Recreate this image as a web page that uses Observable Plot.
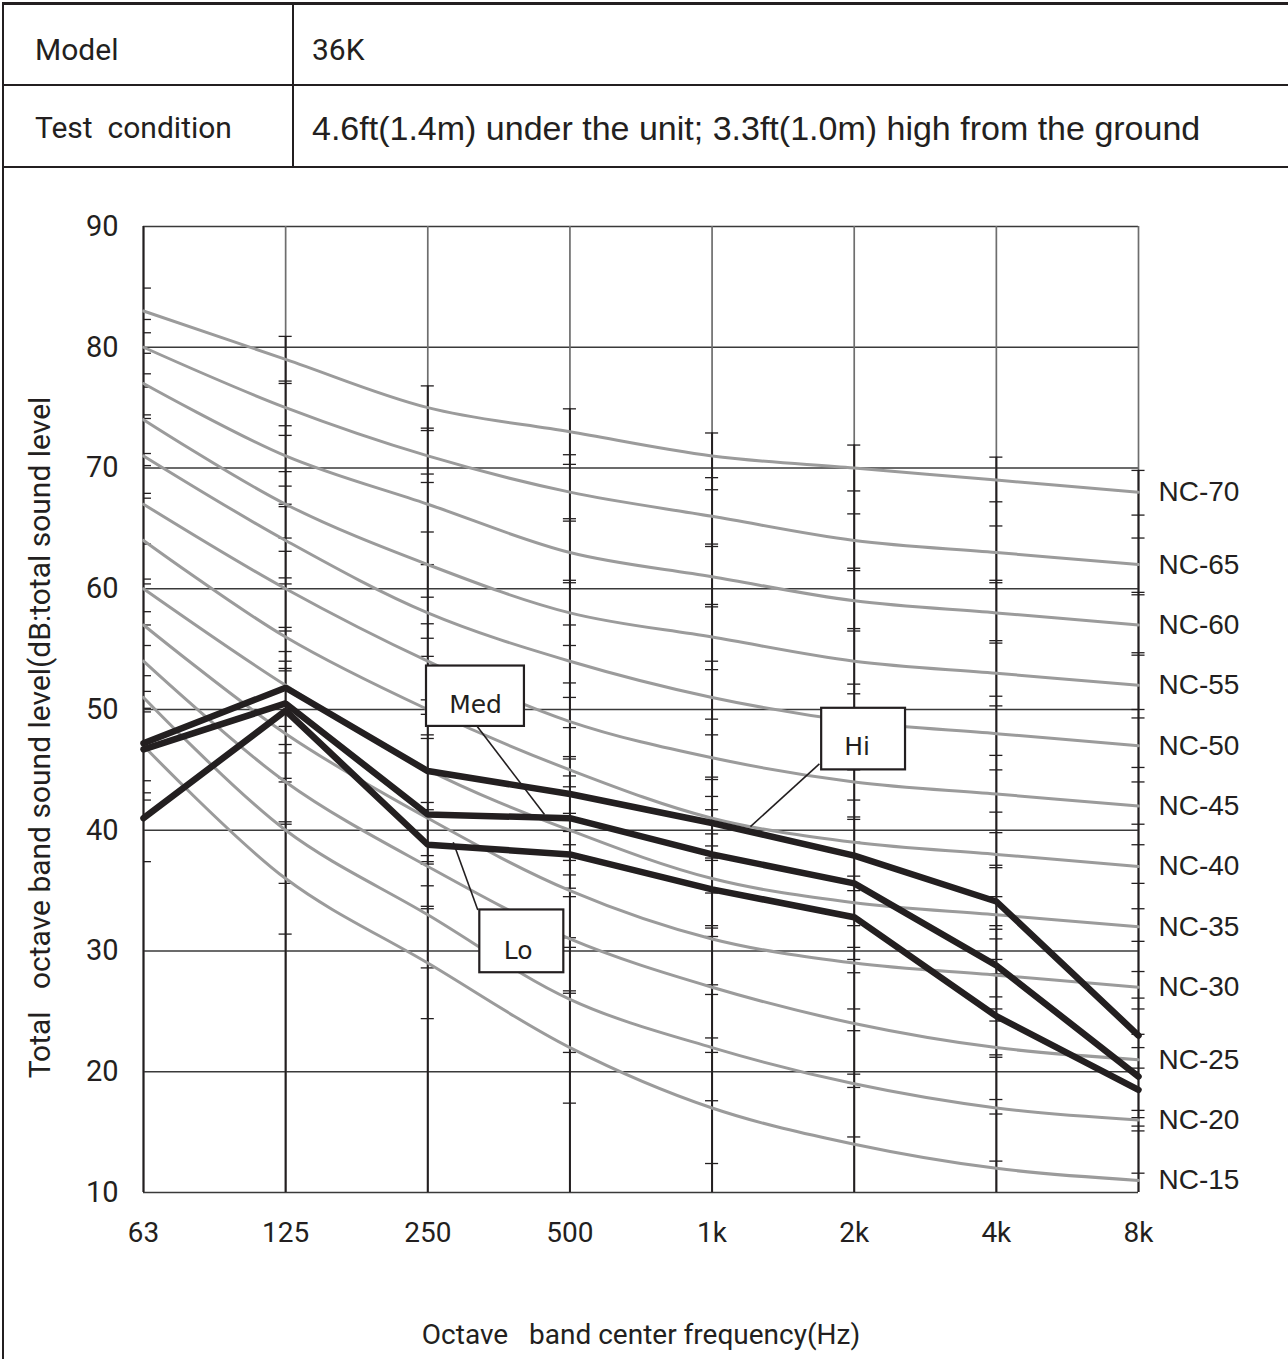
<!DOCTYPE html>
<html>
<head>
<meta charset="utf-8">
<script src="https://cdn.jsdelivr.net/npm/d3@7"></script>
<script src="https://cdn.jsdelivr.net/npm/@observablehq/plot@0.6"></script>
<style>
  html, body { margin: 0; padding: 0; background: #fff; }
  #page { position: relative; width: 1288px; height: 1359px; overflow: hidden; background: #fff; color: #231f20; }
  .line { position: absolute; background: #231f20; z-index: 2; }
  .cell { position: absolute; line-height: 1; white-space: pre; transform: translateY(-50%); z-index: 2; }
  .din { font-family: Roboto, sans-serif; font-size: 30px; }
  .arial { font-family: "Liberation Sans", Arial, sans-serif; font-size: 34px; }
  #chart { position: absolute; left: 0; top: 167px; z-index: 1; }
</style>
</head>
<body>
<div id="page">
  <div id="chart"></div>
  <!-- header table -->
  <div class="line" style="left:2px;top:2px;width:1300px;height:3px"></div>
  <div class="line" style="left:2px;top:2px;width:2px;height:1400px"></div>
  <div class="line" style="left:2px;top:84px;width:1300px;height:2px"></div>
  <div class="line" style="left:2px;top:166px;width:1300px;height:2px"></div>
  <div class="line" style="left:292px;top:2px;width:2px;height:165px"></div>
  <div class="cell din" style="left:35px;top:50px">Model</div>
  <div class="cell din" style="left:312px;top:50px">36K</div>
  <div class="cell din" style="left:35px;top:128px">Test  condition</div>
  <div class="cell arial" style="left:312px;top:128px">4.6ft(1.4m) under the unit; 3.3ft(1.0m) high from the ground</div>
</div>
<script>
// Octave bands (x positions are the band index)
const bands = ["63", "125", "250", "500", "1k", "2k", "4k", "8k"];
const yTicks = [10, 20, 30, 40, 50, 60, 70, 80, 90];

// Noise criterion reference curves, dB per octave band
const ncNames = ["NC-70", "NC-65", "NC-60", "NC-55", "NC-50", "NC-45", "NC-40", "NC-35", "NC-30", "NC-25", "NC-20", "NC-15"];
const nc70 = [83, 79, 75, 73, 71, 70, 69, 68];
const nc65 = [80, 75, 71, 68, 66, 64, 63, 62];
const nc60 = [77, 71, 67, 63, 61, 59, 58, 57];
const nc55 = [74, 67, 62, 58, 56, 54, 53, 52];
const nc50 = [71, 64, 58, 54, 51, 49, 48, 47];
const nc45 = [67, 60, 54, 49, 46, 44, 43, 42];
const nc40 = [64, 56, 50, 45, 41, 39, 38, 37];
const nc35 = [60, 52, 45, 40, 36, 34, 33, 32];
const nc30 = [57, 48, 41, 35, 31, 29, 28, 27];
const nc25 = [54, 44, 37, 31, 27, 24, 22, 21];
const nc20 = [51, 40, 33, 26, 22, 19, 17, 16];
const nc15 = [47, 36, 29, 22, 17, 14, 12, 11];
const ncLevels = [nc70, nc65, nc60, nc55, nc50, nc45, nc40, nc35, nc30, nc25, nc20, nc15];

// Measured sound levels of the 36K unit per fan speed
const modes = ["Hi", "Med", "Lo"];
const hiLevels  = [47.2, 51.8, 44.9, 43.0, 40.6, 37.9, 34.1, 23.0];
const medLevels = [46.7, 50.5, 41.3, 41.0, 38.0, 35.6, 28.8, 19.6];
const loLevels  = [41.0, 49.9, 38.8, 38.0, 35.1, 32.8, 24.6, 18.5];
const modeLevels = [hiLevels, medLevels, loLevels];

// Callout boxes: band-index span, dB span, text anchor, leader end points
const calloutX1 = [4.771, 1.991, 2.366];
const calloutX2 = [5.361, 2.680, 2.957];
const calloutY1 = [45.0, 48.6, 28.2];
const calloutY2 = [50.1, 53.6, 33.4];
const calloutTx = [5.021, 2.336, 2.636];
const calloutTy = [46.9, 50.4, 30.0];
const leaderFrom = [[4.755, 45.5], [2.348, 48.6], [2.352, 33.4]];
const leaderTo   = [[4.270, 40.3], [2.821, 41.3], [2.179, 39.0]];

// Scale marks along each band line (dB)
const ticks63   = [84.9, 82.3, 81.2, 79.5, 77.8, 76.7, 74.4, 74.1, 71.2, 70.2, 67.9, 67.5, 63.7, 60.8, 60.4, 58.1, 57.0, 55.3, 52.8, 51.5, 50.1, 49.8, 44.1, 43.1, 42.5, 37.4];
const ticks125  = [80.9, 77.2, 77.0, 73.5, 72.7, 69.7, 68.5, 67.0, 66.8, 64.2, 63.1, 60.9, 60.4, 56.8, 56.5, 54.8, 54.0, 53.4, 53.2, 48.6, 47.1, 46.4, 44.3, 44.0, 40.7, 40.5, 35.6, 31.4];
const ticks250  = [76.8, 73.3, 73.1, 69.5, 68.8, 64.7, 62.0, 59.3, 57.1, 55.9, 54.4, 50.8, 49.6, 47.9, 47.6, 42.3, 41.7, 37.9, 37.4, 37.2, 35.4, 33.7, 33.5, 28.6, 24.4];
const ticks500  = [74.9, 71.1, 70.3, 65.8, 65.6, 60.7, 60.5, 57.0, 55.3, 52.2, 51.0, 48.5, 46.1, 45.9, 44.5, 43.6, 41.4, 39.9, 38.8, 37.5, 36.3, 35.2, 34.5, 31.1, 30.3, 26.7, 26.5, 21.6, 17.4];
const ticks1k   = [72.9, 69.2, 68.2, 63.7, 63.5, 58.7, 58.5, 54.0, 53.3, 49.2, 47.9, 44.4, 44.2, 42.8, 41.7, 39.7, 38.7, 37.7, 37.5, 34.8, 32.1, 31.9, 31.2, 27.2, 26.4, 22.8, 21.6, 17.6, 12.4];
const ticks2k   = [71.9, 68.1, 66.2, 61.7, 61.5, 56.7, 56.5, 52.1, 51.3, 45.0, 42.5, 41.1, 40.9, 39.0, 36.2, 35.0, 32.1, 30.3, 29.3, 28.2, 25.2, 23.4, 19.8, 18.7, 14.6];
const ticks4k   = [70.9, 67.2, 65.2, 60.7, 60.5, 55.7, 55.5, 51.1, 50.3, 46.2, 45.0, 41.5, 39.8, 37.1, 36.9, 34.5, 32.1, 31.8, 31.0, 29.3, 28.1, 26.2, 25.2, 24.2, 21.4, 21.2, 17.7, 16.5, 12.6];
const ticks8k   = [69.8, 66.1, 64.2, 59.7, 59.5, 54.7, 54.5, 50.0, 49.3, 45.2, 44.0, 40.5, 38.8, 35.6, 33.5, 30.8, 28.3, 26.1, 25.2, 23.1, 22.0, 20.3, 16.8, 16.2, 15.5, 15.1, 11.6];
const bandTicks = [ticks63, ticks125, ticks250, ticks500, ticks1k, ticks2k, ticks4k, ticks8k];

const yLabel = "Total\u00a0\u00a0\u00a0octave band sound level(dB:total sound level";
const xLabel = "Octave\u00a0\u00a0\u00a0band center frequency(Hz)";

// ---- derived tables ----
const bandIndex = bands.map((_, i) => i);
const ink = "#231f20";
const tickHalf = 0.046; // half length of a scale mark, in band units

const ncRows = ncNames.flatMap((name, k) => ncLevels[k].map((v, i) => ({name, i, v})));
const soundRows = modes.flatMap((mode, k) => modeLevels[k].map((v, i) => ({mode, i, v})));
const tickRows = bandTicks.flatMap((list, i) => list.map(v => ({
  v,
  x1: i === 0 ? 0 : i - tickHalf,
  x2: i === 0 ? 0.056 : i + tickHalf
})));
// dark part of each band line runs from the floor up to its highest mark
const darkSpans = bandTicks.map((list, i) => ({i, top: i === 0 ? 90 : d3.max(list)}));
const callouts = modes.map((label, k) => ({
  label,
  x1: calloutX1[k], x2: calloutX2[k], y1: calloutY1[k], y2: calloutY2[k],
  tx: calloutTx[k], ty: calloutTy[k],
  lx1: leaderFrom[k][0], ly1: leaderFrom[k][1], lx2: leaderTo[k][0], ly2: leaderTo[k][1]
}));
const ncEnds = ncNames.map((name, k) => ({name, i: 7, v: ncLevels[k][7]}));

const chart = Plot.plot({
  width: 1288,
  height: 1192,
  marginLeft: 143,
  marginRight: 150,
  marginTop: 59,
  marginBottom: 167,
  x: {domain: [0, 7]},
  y: {domain: [10, 90]},
  style: {background: "transparent", color: ink, fontFamily: "Roboto, sans-serif", overflow: "visible"},
  marks: [
    Plot.ruleY(yTicks, {stroke: "#3a3a3a", strokeWidth: 1.3}),
    Plot.ruleX(bandIndex, {y1: 10, y2: 90, stroke: "#6e6e6e", strokeWidth: 1.7}),
    Plot.ruleX(darkSpans, {x: "i", y1: 10, y2: "top", stroke: ink, strokeWidth: 2}),
    Plot.ruleY(tickRows, {y: "v", x1: "x1", x2: "x2", stroke: ink, strokeWidth: 1.3}),
    Plot.line(ncRows, {x: "i", y: "v", z: "name", stroke: "#9b9b9b", strokeWidth: 3, curve: "catmull-rom"}),
    Plot.line(soundRows, {x: "i", y: "v", z: "mode", stroke: ink, strokeWidth: 6.5, strokeLinejoin: "miter", strokeLinecap: "round"}),
    Plot.link(callouts, {x1: "lx1", y1: "ly1", x2: "lx2", y2: "ly2", stroke: ink, strokeWidth: 1.6}),
    Plot.rect(callouts, {x1: "x1", x2: "x2", y1: "y1", y2: "y2", fill: "white", stroke: ink, strokeWidth: 2.2}),
    Plot.text(callouts, {x: "tx", y: "ty", text: "label", fontFamily: "DejaVu Sans", fontSize: 25, fill: ink}),
    Plot.text(ncEnds, {x: "i", y: "v", text: "name", dx: 20, textAnchor: "start", fontFamily: "Liberation Sans, Arial, sans-serif", fontSize: 28, fill: ink}),
    Plot.axisY({ticks: yTicks, tickSize: 0, tickPadding: 25, fontSize: 29, label: null}),
    Plot.axisX({ticks: bandIndex, tickFormat: i => bands[i], tickSize: 0, tickPadding: 30, fontSize: 28, label: null}),
    Plot.text([yLabel], {frameAnchor: "left", textAnchor: "middle", lineAnchor: "middle", dx: -103, dy: 28, rotate: -90, fontSize: 30, fill: ink}),
    Plot.text([xLabel], {frameAnchor: "bottom", textAnchor: "middle", lineAnchor: "middle", dy: 143, fontSize: 28, fill: ink})
  ]
});
document.getElementById("chart").appendChild(chart);
</script>
</body>
</html>
